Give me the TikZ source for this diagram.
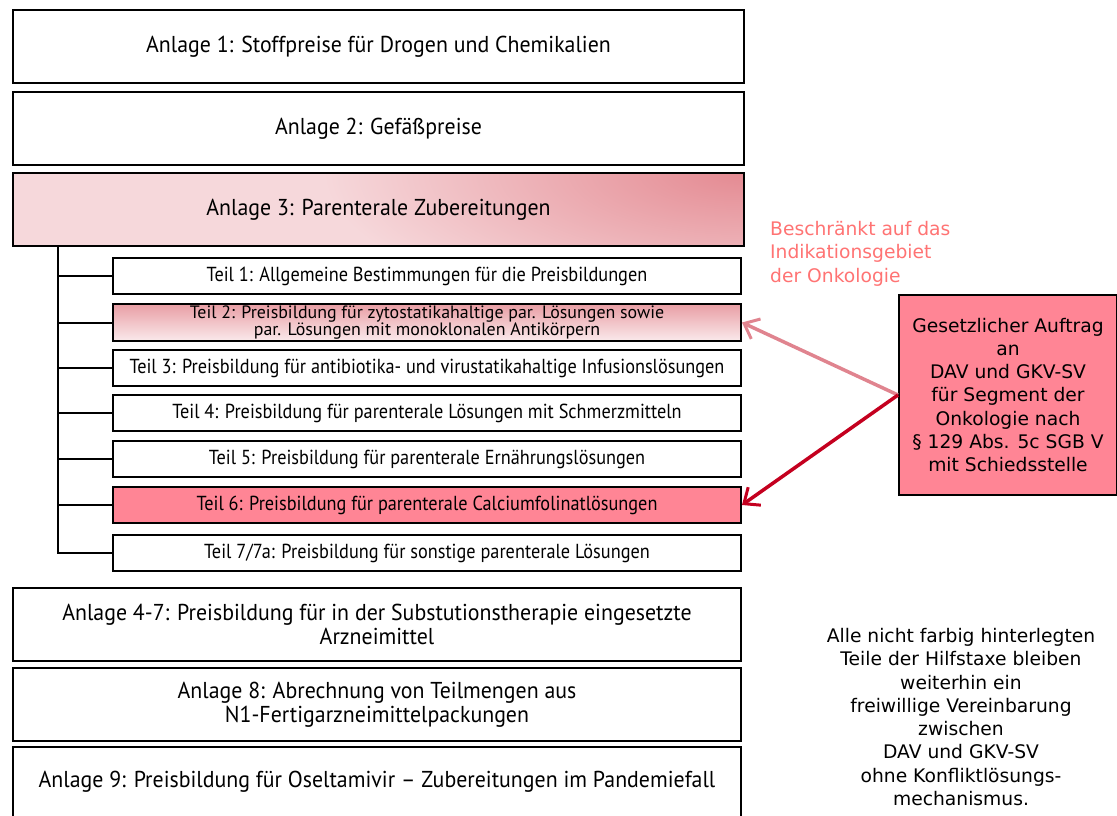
\documentclass[tikz,border=0pt]{standalone}
\usepackage{fontspec}
\usetikzlibrary{arrows.meta,shadings}
\newfontfamily\boxfont[FakeStretch=0.95]{PT Sans}
\newfontfamily\teilfont[FakeStretch=0.9]{PT Sans}
\newfontfamily\teilfontb[FakeStretch=1.0]{PT Sans}
\newfontfamily\sidefont{DejaVu Sans}
\definecolor{pinkfill}{HTML}{FF8595}
\definecolor{salmon}{HTML}{FF7373}
\definecolor{lightarrow}{HTML}{E0848F}
\definecolor{darkarrow}{HTML}{C4001F}
\definecolor{lightpink}{HTML}{F6D8DB}
\definecolor{midpink}{HTML}{E48A92}
\tikzset{
  anlage/.style={draw=black, line width=2pt, anchor=north west, minimum height=73pt, inner sep=0pt, align=center, font=\boxfont\fontsize{23}{24}\selectfont},
  teil/.style={draw=black, line width=2pt, anchor=north west, minimum width=628pt, minimum height=36pt, inner sep=0pt, align=center, font=\teilfont\fontsize{20.3}{20}\selectfont},
  trunk/.style={line width=2pt, black},
  arr/.style={line width=3.5pt, -{Straight Barb[length=13pt,width=22pt,line width=3pt]}},
  sidetext/.style={inner sep=0pt, font=\sidefont\fontsize{18.7}{23.3}\selectfont},
}
\begin{document}
\begin{tikzpicture}[x=1pt,y=-1pt]
\useasboundingbox (0,0) rectangle (1117,816);
% Anlage boxes
\node[anlage, minimum width=731pt] (a1) at (12,9) {Anlage 1: Stoffpreise für Drogen und Chemikalien};
\node[anlage, minimum width=731pt] (a2) at (12,91) {Anlage 2: Gefäßpreise};
\begin{scope}
\clip (12,172) rectangle (743,245);
\fill[lightpink] (12,172) rectangle (743,245);
\shade[inner color=midpink, outer color=lightpink] (743,172) ellipse [x radius=420, y radius=150];
\end{scope}
\node[anlage, minimum width=731pt] (a3) at (12,172) {Anlage 3: Parenterale Zubereitungen};
% Teil boxes
\node[teil] (t1) at (112,257) {Teil 1: Allgemeine Bestimmungen für die Preisbildungen};
\shade[top color=midpink!85!white, bottom color=lightpink!60!white] (112,303) rectangle (740,340);
\node[teil, minimum height=37pt, font=\teilfontb\fontsize{17.9}{17.5}\selectfont] (t2) at (112,303) {Teil 2: Preisbildung für zytostatikahaltige par. Lösungen sowie\\par. Lösungen mit monoklonalen Antikörpern};
\node[teil] (t3) at (112,349) {Teil 3: Preisbildung für antibiotika- und virustatikahaltige Infusionslösungen};
\node[teil] (t4) at (112,394) {Teil 4: Preisbildung für parenterale Lösungen mit Schmerzmitteln};
\node[teil] (t5) at (112,440) {Teil 5: Preisbildung für parenterale Ernährungslösungen};
\node[teil, fill=pinkfill] (t6) at (112,486) {Teil 6: Preisbildung für parenterale Calciumfolinatlösungen};
\node[teil] (t7) at (112,534) {Teil 7/7a: Preisbildung für sonstige parenterale Lösungen};
% trunk
\coordinate (tr) at (58,245);
\draw[trunk] (tr) |- (t7.west);
\foreach \t in {t1,t2,t3,t4,t5,t6} \draw[trunk] (tr |- \t.west) -- (\t.west);
% lower Anlage boxes
\node[anlage, minimum width=728pt] (a4) at (12,587) {Anlage 4-7: Preisbildung für in der Substutionstherapie eingesetzte\\Arzneimittel};
\node[anlage, minimum width=728pt] (a8) at (12,667) {Anlage 8: Abrechnung von Teilmengen aus\\N1-Fertigarzneimittelpackungen};
\node[anlage, minimum width=728pt, minimum height=70pt] (a9) at (12,746) {Anlage 9: Preisbildung für Oseltamivir – Zubereitungen im Pandemiefall};
% right box
\node[sidetext, draw=black, line width=2pt, fill=pinkfill, anchor=north west, minimum width=218pt, minimum height=200pt, align=center] (rb) at (898,294) {Gesetzlicher Auftrag\\an\\DAV und GKV-SV\\für Segment der\\Onkologie nach\\§ 129 Abs. 5c SGB V\\mit Schiedsstelle};
% salmon note
\node[sidetext, anchor=north west, align=left, text=salmon] (note) at (770,221) {Beschränkt auf das\\Indikationsgebiet\\der Onkologie};
% arrows
\draw[arr, lightarrow] (rb.west) -- (t2.east);
\draw[arr, darkarrow] (rb.west) -- (t6.east);
% bottom right note
\node[sidetext, anchor=north, align=center] (info) at (961,628) {Alle nicht farbig hinterlegten\\Teile der Hilfstaxe bleiben\\weiterhin ein\\freiwillige Vereinbarung\\zwischen\\DAV und GKV-SV\\ohne Konfliktlösungs-\\mechanismus.};
\end{tikzpicture}
\end{document}
